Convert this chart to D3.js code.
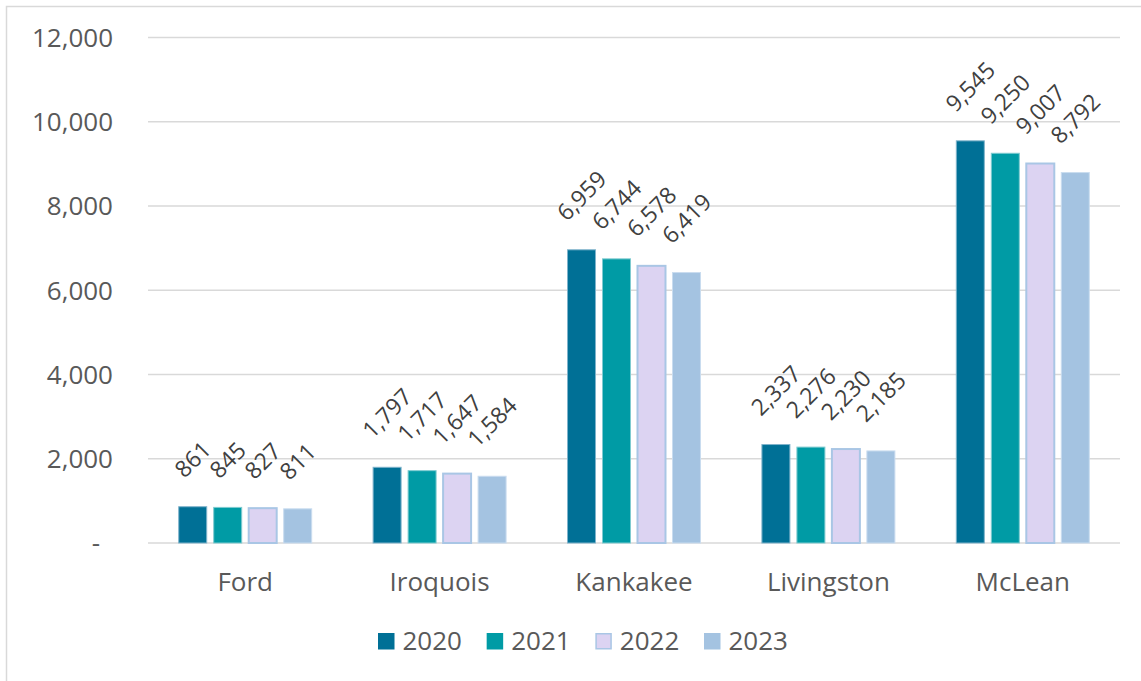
<!DOCTYPE html>
<html>
<head>
<meta charset="utf-8">
<script src="https://cdn.jsdelivr.net/npm/d3@7"></script>
<style>
  html, body { margin: 0; padding: 0; background: #fff; }
  svg { display: block; font-family: "Open Sans", sans-serif; }
</style>
</head>
<body>
<svg id="chart" width="1141" height="681"></svg>
<script>
const categories = ["Ford", "Iroquois", "Kankakee", "Livingston", "McLean"];
const years = ["2020", "2021", "2022", "2023"];
const values2020 = [861, 1797, 6959, 2337, 9545];
const values2021 = [845, 1717, 6744, 2276, 9250];
const values2022 = [827, 1647, 6578, 2230, 9007];
const values2023 = [811, 1584, 6419, 2185, 8792];
const yTicks = [0, 2000, 4000, 6000, 8000, 10000, 12000];

const seriesValues = [values2020, values2021, values2022, values2023];
const fills = ["#007096", "#009BA5", "#DCD3F2", "#A4C3E1"];
const strokes = ["#7FB3CB", "#7FCBD0", "#A9C6E5", "#C9DCEF"];
const strokeWidths = [1, 1, 2, 1];

const svg = d3.select("#chart");

// outer border
svg.append("rect").attr("x", 6.5).attr("y", 6.5).attr("width", 1200).attr("height", 800)
  .attr("fill", "#fff").attr("stroke", "#D9D9D9").attr("stroke-width", 1.5);

const plotLeft = 148, plotRight = 1120, plotTop = 37.4, plotBottom = 543;

const y = d3.scaleLinear().domain([0, 12000]).range([plotBottom, plotTop]);
const x0 = d3.scaleBand().domain(categories).range([plotLeft, plotRight]).paddingInner(0.28).paddingOuter(0.14);
const x1 = d3.scaleBand().domain(years).range([0, x0.bandwidth()]).paddingInner(0.2).paddingOuter(0.1);

// gridlines
const grid = svg.append("g");
yTicks.forEach(t => {
  grid.append("line")
    .attr("x1", plotLeft).attr("x2", plotRight)
    .attr("y1", y(t)).attr("y2", y(t))
    .attr("stroke", "#D9D9D9").attr("stroke-width", 1.5);
});

// y tick labels
const fmt = d3.format(",");
const yAxis = svg.append("g");
yTicks.forEach(t => {
  yAxis.append("text")
    .attr("x", t === 0 ? 100 : 113)
    .attr("y", y(t))
    .attr("dy", "0.36em")
    .attr("text-anchor", "end")
    .attr("font-size", 26)
    .attr("fill", "#595959")
    .text(t === 0 ? "-" : fmt(t));
});

// bars
const bars = svg.append("g");
const labels = svg.append("g");
categories.forEach((c, ci) => {
  years.forEach((yr, si) => {
    const v = seriesValues[si][ci];
    const bx = x0(c) + x1(yr);
    const bw = x1.bandwidth();
    bars.append("rect")
      .attr("x", bx).attr("y", y(v))
      .attr("width", bw).attr("height", y(0) - y(v))
      .attr("fill", fills[si])
      .attr("stroke", strokes[si])
      .attr("stroke-width", strokeWidths[si]);
    const cx = bx + bw / 2;
    const t = labels.append("text")
      .attr("text-anchor", "middle")
      .attr("dy", "0.36em")
      .attr("font-size", 23)
      .attr("fill", "#404040")
      .text(fmt(v));
    const w = t.node().getComputedTextLength();
    const h = 16.4;
    const half = (w + h) / (2 * Math.SQRT2);
    const cy = y(v) - 27.7 - half;
    t.attr("transform", `translate(${cx},${cy}) rotate(-45)`);
  });
});

// category labels
const xAxis = svg.append("g");
categories.forEach(c => {
  xAxis.append("text")
    .attr("x", x0(c) + x0.bandwidth() / 2)
    .attr("y", 591)
    .attr("text-anchor", "middle")
    .attr("font-size", 26)
    .attr("fill", "#595959")
    .text(c);
});

// legend
const legend = svg.append("g");
const legendX = d3.scalePoint().domain(years).range([378, 704]);
years.forEach((yr, si) => {
  const lx = legendX(yr);
  legend.append("rect")
    .attr("x", si === 2 ? lx + 0.75 : lx).attr("y", si === 2 ? 633.75 : 633)
    .attr("width", si === 2 ? 15 : 16.5).attr("height", si === 2 ? 15 : 16.5)
    .attr("fill", fills[si])
    .attr("stroke", si === 2 ? strokes[si] : "none")
    .attr("stroke-width", 1.5);
  legend.append("text")
    .attr("x", lx + 24.5).attr("y", 650)
    .attr("font-size", 26)
    .attr("fill", "#595959")
    .text(yr);
});
</script>
</body>
</html>
